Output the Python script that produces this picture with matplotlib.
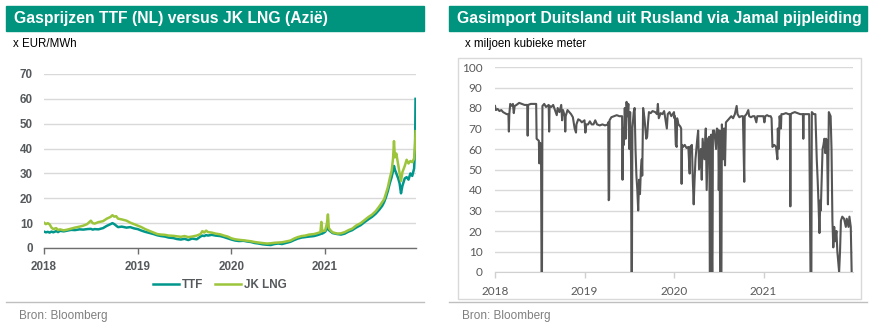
import matplotlib
matplotlib.use("Agg")
import matplotlib.pyplot as plt
from matplotlib.patches import Rectangle
from matplotlib.lines import Line2D

# ---------------- data ----------------
# Left chart: gas prices (decimal years)
left_x = [2018.00, 2018.02, 2018.04, 2018.06, 2018.08, 2018.10, 2018.13, 2018.15, 2018.17, 2018.21,
          2018.25, 2018.29, 2018.33, 2018.38, 2018.42, 2018.46, 2018.50, 2018.52, 2018.54, 2018.58,
          2018.63, 2018.67, 2018.71, 2018.73, 2018.75, 2018.77, 2018.79, 2018.83, 2018.88, 2018.92,
          2018.96, 2019.00, 2019.04, 2019.08, 2019.13, 2019.17, 2019.21, 2019.25, 2019.29, 2019.33,
          2019.38, 2019.42, 2019.46, 2019.50, 2019.54, 2019.58, 2019.63, 2019.67, 2019.69, 2019.71,
          2019.73, 2019.75, 2019.79, 2019.83, 2019.88, 2019.92, 2019.96, 2020.00, 2020.04, 2020.08,
          2020.13, 2020.17, 2020.21, 2020.25, 2020.29, 2020.33, 2020.38, 2020.42, 2020.46, 2020.50,
          2020.54, 2020.58, 2020.63, 2020.67, 2020.71, 2020.75, 2020.79, 2020.83, 2020.88, 2020.92,
          2020.95, 2020.96, 2020.97, 2021.00, 2021.02, 2021.03, 2021.04, 2021.06, 2021.08, 2021.13,
          2021.17, 2021.21, 2021.25, 2021.29, 2021.33, 2021.38, 2021.42, 2021.46, 2021.50, 2021.54,
          2021.58, 2021.61, 2021.63, 2021.65, 2021.67, 2021.69, 2021.71, 2021.725, 2021.735, 2021.745,
          2021.76, 2021.78, 2021.795, 2021.81, 2021.825, 2021.85, 2021.87, 2021.89, 2021.91, 2021.93,
          2021.95, 2021.96, 2021.965]
ttf = [6.6, 6.3, 6.5, 6.2, 6.6, 6.3, 6.8, 6.4, 6.9, 6.7,
       7.0, 7.3, 7.2, 7.5, 7.4, 7.6, 7.7, 7.4, 7.6, 7.5,
       8.0, 8.9, 9.6, 10.0, 9.6, 9.0, 8.4, 8.6, 8.2, 8.4,
       7.9, 7.6, 7.0, 6.5, 6.0, 5.6, 5.1, 4.8, 4.6, 4.2,
       4.0, 3.6, 3.4, 3.7, 3.2, 3.8, 3.5, 4.6, 5.0, 4.8,
       5.2, 5.0, 5.3, 5.0, 4.8, 4.4, 3.9, 3.4, 3.0, 2.8,
       2.9, 2.6, 2.4, 2.0, 1.8, 1.5, 1.3, 1.2, 1.6, 1.8,
       1.6, 2.0, 2.5, 3.2, 3.8, 4.2, 4.4, 4.6, 4.8, 5.2,
       5.6, 5.8, 5.8, 6.5, 7.8, 8.5, 7.2, 6.6, 6.0, 5.6,
       5.4, 5.8, 6.6, 7.2, 8.2, 9.2, 10.4, 11.5, 12.5, 13.8,
       15.5, 17.0, 18.5, 20.5, 23.0, 26.0, 28.5, 31.0, 33.0, 31.5,
       30.0, 28.0, 26.0, 22.0, 25.0, 28.0, 28.5, 27.5, 30.0, 29.0,
       32.0, 40.0, 60.0]
jk_lng = [10.2, 9.6, 10.0, 9.5, 8.2, 7.6, 8.0, 7.2, 7.5, 7.1,
          7.4, 7.8, 8.2, 8.6, 9.0, 9.6, 11.0, 10.0, 9.8, 10.4,
          10.8, 11.8, 12.5, 13.2, 12.6, 12.8, 11.8, 11.5, 11.0, 10.2,
          9.6, 9.0, 8.4, 7.6, 6.8, 6.2, 5.6, 5.4, 5.3, 5.0,
          4.9, 4.7, 4.5, 4.8, 4.4, 4.6, 5.0, 5.6, 6.8, 6.2,
          7.0, 6.4, 6.2, 5.8, 5.5, 5.0, 4.6, 3.9, 3.5, 3.3,
          3.1, 2.9, 2.7, 2.4, 2.2, 2.0, 1.8, 1.9, 2.1, 2.2,
          2.3, 2.6, 3.0, 3.8, 4.4, 4.8, 5.0, 5.4, 5.6, 6.0,
          6.4, 10.5, 6.8, 7.0, 10.0, 13.5, 8.0, 7.0, 6.3, 5.8,
          5.9, 6.4, 7.2, 7.8, 9.0, 10.0, 11.2, 12.4, 13.4, 14.8,
          16.8, 18.5, 19.6, 22.0, 24.5, 28.0, 31.0, 36.0, 43.0, 36.5,
          38.0, 33.5, 30.0, 27.0, 30.5, 33.0, 35.5, 34.0, 35.0, 34.5,
          36.0, 42.0, 47.0]

# Right chart: Jamal pipeline flows (decimal years, million m3)
jamal_x = [2018.00, 2018.01, 2018.03, 2018.05, 2018.07, 2018.09, 2018.11, 2018.13, 2018.15, 2018.155,
           2018.16, 2018.17, 2018.19, 2018.20, 2018.21, 2018.22, 2018.24, 2018.27, 2018.30, 2018.33,
           2018.36, 2018.365, 2018.37, 2018.40, 2018.43, 2018.46, 2018.465, 2018.49, 2018.495, 2018.505,
           2018.515, 2018.52, 2018.525, 2018.53, 2018.55, 2018.57, 2018.60, 2018.605, 2018.61, 2018.63,
           2018.65, 2018.67, 2018.69, 2018.70, 2018.72, 2018.74, 2018.75, 2018.76, 2018.78, 2018.785,
           2018.79, 2018.81, 2018.83, 2018.85, 2018.87, 2018.89, 2018.905, 2018.91, 2018.93, 2018.95,
           2018.97, 2019.00,
           2019.01, 2019.02, 2019.04, 2019.06, 2019.08, 2019.10, 2019.12, 2019.14, 2019.17, 2019.20,
           2019.23, 2019.26, 2019.265, 2019.27, 2019.275, 2019.28, 2019.30, 2019.33, 2019.36, 2019.39,
           2019.42, 2019.425, 2019.43, 2019.44, 2019.45, 2019.46, 2019.47, 2019.48, 2019.49, 2019.50,
           2019.51, 2019.52, 2019.525, 2019.53, 2019.535, 2019.55, 2019.56, 2019.57, 2019.58, 2019.59,
           2019.60, 2019.61, 2019.62, 2019.63, 2019.64, 2019.645, 2019.655, 2019.67, 2019.68, 2019.69,
           2019.70, 2019.71, 2019.72, 2019.74, 2019.76, 2019.79, 2019.81, 2019.82, 2019.83, 2019.85,
           2019.87, 2019.89, 2019.92, 2019.93, 2019.95, 2019.97,
           2020.00, 2020.005, 2020.01, 2020.02, 2020.03, 2020.035, 2020.05, 2020.07, 2020.08, 2020.085,
           2020.09, 2020.10, 2020.12, 2020.14, 2020.16, 2020.175, 2020.18, 2020.20, 2020.21, 2020.22,
           2020.23, 2020.24, 2020.26, 2020.27, 2020.28, 2020.30, 2020.31, 2020.32, 2020.34, 2020.355,
           2020.365, 2020.38, 2020.395, 2020.40, 2020.41, 2020.415, 2020.425, 2020.43, 2020.435, 2020.45,
           2020.47, 2020.48, 2020.495, 2020.50, 2020.51, 2020.515, 2020.53, 2020.535, 2020.55, 2020.56,
           2020.57, 2020.58, 2020.60, 2020.62, 2020.64, 2020.66, 2020.68, 2020.70, 2020.71, 2020.73,
           2020.75, 2020.77, 2020.785, 2020.79, 2020.81, 2020.83, 2020.84, 2020.86, 2020.88, 2020.90,
           2020.92, 2020.93, 2020.95, 2020.97,
           2021.00, 2021.01, 2021.02, 2021.04, 2021.06, 2021.08, 2021.09, 2021.10, 2021.12, 2021.14,
           2021.155, 2021.16, 2021.17, 2021.18, 2021.195, 2021.20, 2021.22, 2021.25, 2021.28, 2021.295,
           2021.30, 2021.305, 2021.32, 2021.35, 2021.38, 2021.41, 2021.44, 2021.445, 2021.45, 2021.48,
           2021.51, 2021.525, 2021.535, 2021.54, 2021.56, 2021.58, 2021.595, 2021.605, 2021.615, 2021.625,
           2021.635, 2021.64, 2021.65, 2021.66, 2021.67, 2021.68, 2021.69, 2021.70, 2021.71, 2021.72,
           2021.73, 2021.74, 2021.75, 2021.76, 2021.77, 2021.78, 2021.79, 2021.80, 2021.815, 2021.825,
           2021.835, 2021.845, 2021.855, 2021.865, 2021.88, 2021.90, 2021.92, 2021.93, 2021.95, 2021.96,
           2021.975, 2021.985]
jamal = [81, 79, 79.5, 78.5, 79, 78, 77.5, 77, 77, 68.5,
         77, 82, 81, 82, 77.5, 81, 81.5, 82.5, 82, 81.5,
         81.5, 66.5, 81.5, 82, 82, 82, 65, 64, 53, 63,
         52, 0, 0, 81, 82, 80.5, 81.5, 68.5, 81, 80.5,
         81.5, 79, 76.5, 80, 78, 81.5, 74, 79, 76, 68.5,
         76, 79, 78, 77, 75.5, 70, 68, 72, 74.5, 74,
         73, 74,
         68, 72, 72, 73.5, 72, 72, 74, 72, 71.5, 72,
         71.5, 72, 73, 35, 35.5, 74, 75.5, 76, 76.5, 76,
         76, 45, 70, 62, 80, 65, 83, 76, 82, 60,
         78, 55, 0, 0, 70, 78, 80, 60, 47, 40,
         30, 45, 38, 50, 55, 47, 80, 75, 70, 65,
         66, 73, 78, 77.5, 78.5, 78, 77, 82, 75, 77.5,
         77, 78.5, 70, 77, 78, 76,
         78, 75, 76, 62, 61, 75, 72, 71, 70, 43,
         62, 61, 62, 60.5, 61, 48, 61, 62, 45, 33,
         45, 55, 65, 69, 50, 60, 45, 65, 55, 70,
         40, 65, 66, 0, 0, 67, 0, 0, 69, 69,
         60, 70, 69, 40, 69, 0, 0, 72, 55, 70,
         52, 73, 74, 75, 76, 75, 77, 81, 77, 75.5,
         76, 76, 44, 76, 77, 79, 76, 75.5, 76, 76,
         73, 76, 76, 76,
         76, 73, 76, 76.5, 76, 76, 75, 61, 62, 61,
         55, 70, 60, 76, 70, 77, 77, 77.5, 77, 77,
         32, 77, 77.5, 78, 77.5, 77, 77, 65, 77, 77,
         77, 0, 0, 78, 77, 77, 55, 45, 33, 19,
         35, 30, 45, 60, 62, 65, 58, 65, 63, 33,
         78, 77, 76, 60, 25, 12, 22, 15, 20, 10,
         5, 0, 10, 25, 27, 26, 22, 26, 22, 27,
         22, 0]

year_ticks = [2018, 2019, 2020, 2021]
left_yticks = [0, 10, 20, 30, 40, 50, 60, 70]
right_yticks = [0, 10, 20, 30, 40, 50, 60, 70, 80, 90, 100]

# ---------------- styling ----------------
TEAL = "#00947F"
TTF_C = "#00968C"
JK_C = "#9DC53B"
GRID = "#d9d9d9"
LBL = "#55595c"

W, H = 875, 327
plt.rcParams['font.family'] = ['Liberation Sans', 'DejaVu Sans']

fig = plt.figure(figsize=(W / 100, H / 100), dpi=100)
fig.patch.set_facecolor("white")


def fx(x):
    return x / W


def fy(y):
    return 1 - y / H


# Banners
for x0, x1, title in [(6, 424, "Gasprijzen TTF (NL) versus JK LNG (Azië)"),
                      (449, 867, "Gasimport Duitsland uit Rusland via Jamal pijpleiding")]:
    fig.patches.append(Rectangle((fx(x0), fy(31)), (x1 - x0) / W, 25 / H,
                                 transform=fig.transFigure, color=TEAL, zorder=0))
    fig.text(fx(x0 + 8), fy(19), title, color="white", fontsize=11.3, fontweight="bold",
             va="center", ha="left")

fig.text(fx(13), fy(44), "x EUR/MWh", fontsize=8.3, color="black", va="center")
fig.text(fx(465), fy(44), "x miljoen kubieke meter", fontsize=8.3, color="black", va="center")

# Separators and sources
for x0, x1, tx in [(6, 424, 19), (449, 867, 462)]:
    fig.add_artist(Line2D([fx(x0), fx(x1)], [fy(302), fy(302)], color="#bfbfbf", lw=1,
                          transform=fig.transFigure))
    fig.text(fx(tx), fy(316), "Bron: Bloomberg", fontsize=8.5, color="#7f7f7f", va="center")

# Right box
fig.patches.append(Rectangle((fx(458), fy(299)), 403 / W, 241 / H, transform=fig.transFigure,
                             fill=False, edgecolor=GRID, lw=1))

# ---------------- left chart ----------------
ax1 = fig.add_axes([fx(44), 79 / H, 372 / W, 174 / H])
ax1.plot(left_x, ttf, color=TTF_C, lw=1.8, label="TTF", zorder=3)
ax1.plot(left_x, jk_lng, color=JK_C, lw=1.8, label="JK LNG", zorder=4)
ax1.set_xlim(2018, 2021.97)
ax1.set_ylim(0, 70)
ax1.set_yticks(left_yticks)
ax1.set_xticks(year_ticks)
ax1.set_xticklabels([str(y) for y in year_ticks])
ax1.grid(axis="y", color=GRID, lw=1, zorder=0)
for s in ["top", "right", "left"]:
    ax1.spines[s].set_visible(False)
ax1.spines["bottom"].set_color("#6e6e6e")
ax1.spines["bottom"].set_linewidth(1)
ax1.tick_params(axis="y", length=0, pad=8, labelsize=8.4, labelcolor=LBL)
ax1.tick_params(axis="x", length=4, width=1, color="#6e6e6e", pad=5, labelsize=8.4,
                labelcolor=LBL)
for lab in ax1.get_xticklabels() + ax1.get_yticklabels():
    lab.set_fontweight("bold")
ax1.set_facecolor("none")

leg = fig.legend(handles=ax1.get_lines(), labels=["TTF", "JK LNG"], loc="center",
                 bbox_to_anchor=(fx(220), fy(285)), ncol=2, frameon=False,
                 handlelength=2.2, handletextpad=0.3, columnspacing=1.0,
                 prop={"weight": "bold", "size": 8.4})
for t in leg.get_texts():
    t.set_color(LBL)

# ---------------- right chart ----------------
ax2 = fig.add_axes([fx(495), 55 / H, 358 / W, 205 / H])
ax2.plot(jamal_x, jamal, color="#555555", lw=1.5, zorder=3)
ax2.set_xlim(2018, 2022)
ax2.set_ylim(0, 100)
ax2.set_yticks(right_yticks)
ax2.set_xticks(year_ticks)
ax2.set_xticklabels([str(y) for y in year_ticks])
ax2.grid(axis="y", color=GRID, lw=1, zorder=0)
for s in ["top", "right", "left"]:
    ax2.spines[s].set_visible(False)
ax2.spines["bottom"].set_color("#d0d0d0")
ax2.tick_params(axis="y", length=0, pad=9, labelsize=8.5, labelcolor="#595959")
ax2.tick_params(axis="x", length=4, width=1, color="#d0d0d0", pad=6, labelsize=8.5,
                labelcolor="#595959")
for lab in ax2.get_xticklabels() + ax2.get_yticklabels():
    lab.set_family(["Lato", "DejaVu Sans"])
ax2.set_facecolor("none")

fig.savefig("out.png", dpi=100, facecolor="white")
